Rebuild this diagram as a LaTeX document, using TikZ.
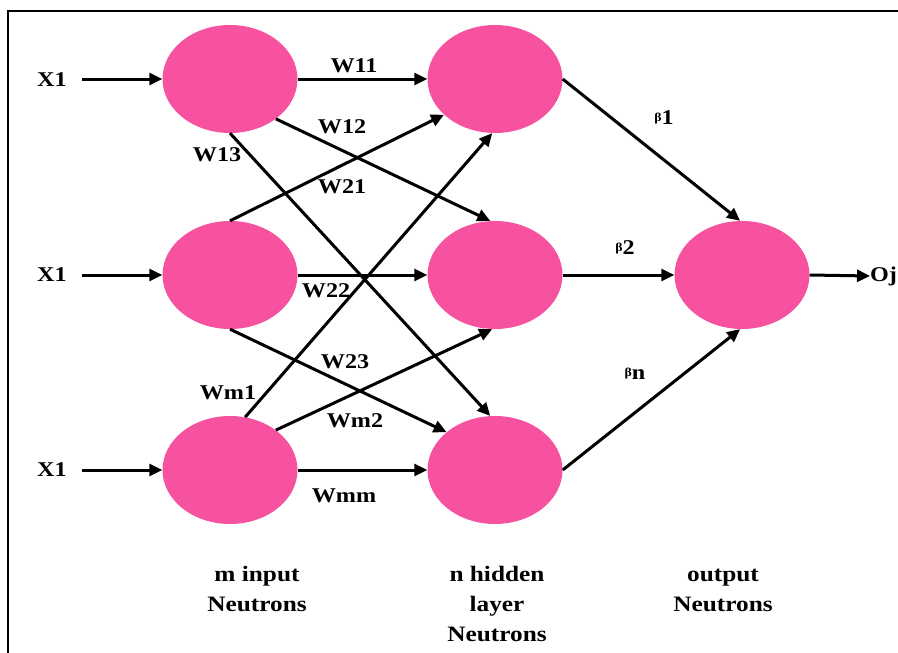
\documentclass[tikz,border=0pt]{standalone}
\usepackage{fontspec}
\setmainfont{Liberation Serif}[FakeStretch=1.15]
\usetikzlibrary{shapes.geometric,arrows.meta}
\definecolor{neuron}{HTML}{F7529F}
\begin{document}
\begin{tikzpicture}[x=1pt,y=-1pt,
  neu/.style={ellipse,fill=neuron,minimum width=135pt,minimum height=108pt,inner sep=0pt},
  con/.style={line width=3pt,-{Triangle[length=13pt,width=12pt]}},
  wlab/.style={font=\fontsize{21}{24}\selectfont\bfseries,inner sep=0pt},
  blab/.style={font=\fontsize{22}{30}\selectfont\bfseries,align=center,inner sep=0pt}]
\useasboundingbox (0,0) rectangle (898,653);
% frame
\draw[line width=2pt] (8,653) -- (8,11) -- (898,11);
% neurons
\node[neu] (i1) at (230,79) {};
\node[neu] (i2) at (230,275) {};
\node[neu] (i3) at (230,470) {};
\node[neu] (h1) at (495,79) {};
\node[neu] (h2) at (495,275) {};
\node[neu] (h3) at (495,470) {};
\node[neu] (o) at (742,275) {};
% inputs
\node[wlab] (x1) at (52,80) {X1};
\node[wlab] (x2) at (52,275) {X1};
\node[wlab] (x3) at (52,470) {X1};
\draw[con] (82,79) coordinate (x1e) -- (i1.west);
\draw[con] (82,275) coordinate (x2e) -- (i2.west);
\draw[con] (82,470) coordinate (x3e) -- (i3.west);
% output
\node[wlab,anchor=west] (oj) at (870,276) {Oj};
\draw[con] (o.east) -- (oj.west);
% input -> hidden
\draw[con] (i1.east) -- (h1.west);
\draw[con] (i1.-41) -- (h2.95);
\draw[con] (i1.south) -- (h3.95);
\draw[con] (i2.north) -- (h1.215);
\draw[con] (i2.east) -- (h2.west);
\draw[con] (i2.south) -- (h3.142);
\draw[con] (i3.74) -- (h1.267);
\draw[con] (i3.41.6) -- (h2.267);
\draw[con] (i3.east) -- (h3.west);
% hidden -> output
\draw[con] (h1.east) -- (o.92);
\draw[con] (h2.east) -- (o.west);
\draw[con] (h3.east) -- (o.268);
% weight labels
\node[wlab] (w11) at (354,66) {W11};
\node[wlab] (w12) at (342,127) {W12};
\node[wlab] (w13) at (217,155) {W13};
\node[wlab] (w21) at (342,187) {W21};
\node[wlab] (w22) at (326,291) {W22};
\node[wlab] (w23) at (345,362) {W23};
\node[wlab] (wm1) at (228,393) {Wm1};
\node[wlab] (wm2) at (355,421) {Wm2};
\node[wlab] (wmm) at (344,496) {Wmm};
% beta labels
\node[wlab] (b1) at (664,118) {\raisebox{3pt}{\fontsize{12}{12}\selectfont β}1};
\node[wlab] (b2) at (625,248) {\raisebox{3pt}{\fontsize{12}{12}\selectfont β}2};
\node[wlab] (bn) at (635,374) {\raisebox{3pt}{\fontsize{12}{12}\selectfont β}n};
% layer labels
\node[blab] (l1) at (257,589) {m input\\Neutrons};
\node[blab] (l2) at (497,604) {n hidden\\layer\\Neutrons};
\node[blab] (l3) at (723,590) {output\\Neutrons};
\end{tikzpicture}
\end{document}
